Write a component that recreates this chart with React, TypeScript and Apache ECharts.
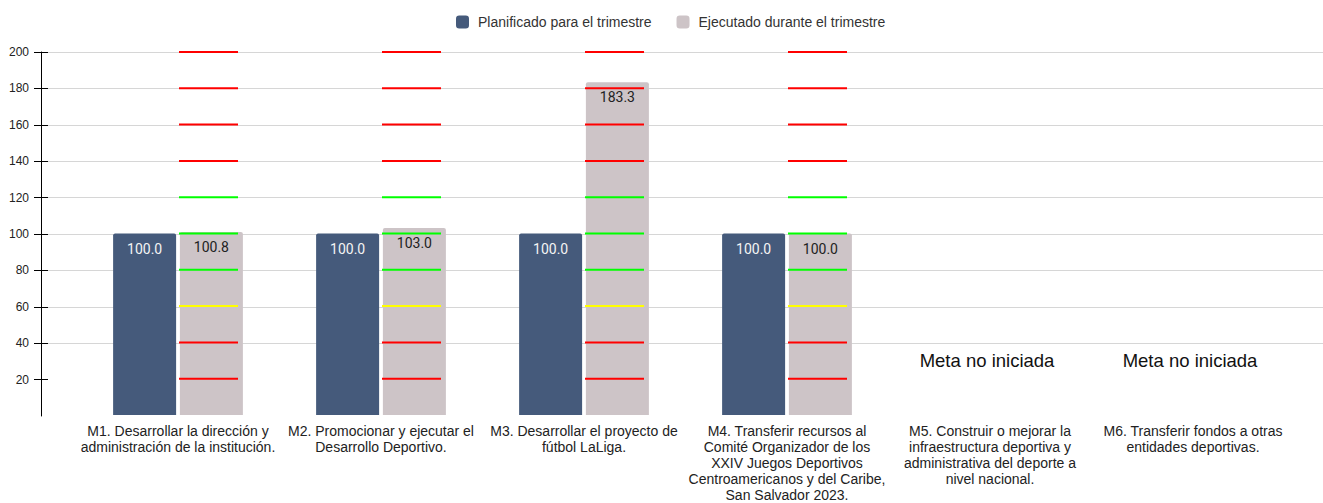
import React, { useEffect, useRef } from 'react';
import * as echarts from 'echarts';

const categories = [
  'M1. Desarrollar la dirección y\nadministración de la institución.',
  'M2. Promocionar y ejecutar el\nDesarrollo Deportivo.',
  'M3. Desarrollar el proyecto de\nfútbol LaLiga.',
  'M4. Transferir recursos al\nComité Organizador de los\nXXIV Juegos Deportivos\nCentroamericanos y del Caribe,\nSan Salvador 2023.',
  'M5. Construir o mejorar la\ninfraestructura deportiva y\nadministrativa del deporte a\nnivel nacional.',
  'M6. Transferir fondos a otras\nentidades deportivas.',
];
const seriesNames = ['Planificado para el trimestre', 'Ejecutado durante el trimestre'];
const planned = [100.0, 100.0, 100.0, 100.0, null, null];
const executed = [100.8, 103.0, 183.3, 100.0, null, null];
const yTickValues = [20, 40, 60, 80, 100, 120, 140, 160, 180, 200];
const thresholdLevels = [20, 40, 60, 80, 100, 120, 140, 160, 180, 200];
const thresholdColors = ['#ff0000', '#ff0000', '#ffff00', '#00ff00', '#00ff00', '#00ff00', '#ff0000', '#ff0000', '#ff0000', '#ff0000'];
const thresholdCategories = [0, 1, 2, 3];
const notStartedCategories = [4, 5];
const notStartedLabel = 'Meta no iniciada';
const notStartedValue = 30;

const BAR_W = 63;
const LINE_LEN = 59;
const FONT = '"Liberation Sans", Arial, sans-serif';

export default function App() {
  const ref = useRef<HTMLDivElement>(null);
  useEffect(() => {
    if (!ref.current) return;
    const chart = echarts.init(ref.current, null, { renderer: 'svg' });
    const thresholdData = thresholdCategories.flatMap((c) =>
      thresholdLevels.map((lvl, i) => [c, lvl, i])
    );
    chart.setOption({
      animation: false,
      backgroundColor: '#ffffff',
      legend: {
        data: seriesNames,
        top: 10,
        left: 451,
        icon: 'roundRect',
        itemWidth: 13,
        itemHeight: 13,
        itemGap: 25,
        textStyle: { fontSize: 14, color: '#333', fontFamily: FONT, padding: [0, 0, 0, 4] },
      },
      grid: [
        { left: 41, right: 0, top: 52, bottom: 87 },
        { left: 76.5, right: 28.5, top: 52, bottom: 87 },
      ],
      xAxis: [
        { gridIndex: 0, type: 'value', min: 0, max: 1, show: false },
        {
          gridIndex: 1,
          type: 'category',
          data: categories,
          axisLine: { show: false },
          axisTick: { show: false },
          splitLine: { show: false },
          axisLabel: {
            interval: 0,
            margin: 8,
            fontSize: 14,
            lineHeight: 16,
            color: '#222',
            fontFamily: FONT,
          },
        },
      ],
      yAxis: [
        {
          gridIndex: 0,
          type: 'value',
          min: 0,
          max: 200,
          interval: 20,
          axisLine: { show: true, lineStyle: { color: '#000', width: 1 } },
          axisTick: { show: true, length: 7, customValues: yTickValues, lineStyle: { color: '#000' } },
          axisLabel: {
            customValues: yTickValues,
            margin: 12,
            fontSize: 12,
            color: '#222',
            fontFamily: FONT,
          },
          splitLine: { show: true, showMinLine: false, lineStyle: { color: '#d6d6d6', width: 1 } },
        },
        {
          gridIndex: 0,
          type: 'value',
          min: 0,
          max: 200,
          interval: 20,
          position: 'left',
          axisLine: { show: false },
          axisTick: { show: true, inside: true, length: 7, customValues: yTickValues, lineStyle: { color: '#000' } },
          axisLabel: { show: false },
          splitLine: { show: false },
        },
        { gridIndex: 1, type: 'value', min: 0, max: 200, show: false },
      ],
      series: [
        {
          name: seriesNames[0],
          type: 'bar',
          xAxisIndex: 1,
          yAxisIndex: 2,
          data: planned,
          barWidth: BAR_W,
          barGap: '6%',
          itemStyle: { color: '#455a7b', borderRadius: [2, 2, 0, 0] },
          label: {
            show: true,
            position: 'insideTop',
            distance: 8,
            color: '#f4f4f4',
            fontSize: 14,
            fontFamily: 'Roboto',
            formatter: (p: any) => (p.value == null ? '' : Number(p.value).toFixed(1)),
          },
        },
        {
          name: seriesNames[1],
          type: 'bar',
          xAxisIndex: 1,
          yAxisIndex: 2,
          data: executed,
          barWidth: BAR_W,
          barGap: '6%',
          itemStyle: { color: '#cdc4c7', borderRadius: [2, 2, 0, 0] },
          label: {
            show: true,
            position: 'insideTop',
            distance: 8,
            color: '#222',
            fontSize: 14,
            fontFamily: 'Roboto',
            formatter: (p: any) => (p.value == null ? '' : Number(p.value).toFixed(1)),
          },
        },
        {
          type: 'custom',
          xAxisIndex: 1,
          yAxisIndex: 2,
          z: 5,
          silent: true,
          data: thresholdData,
          renderItem: (params: any, api: any) => {
            const pt = api.coord([api.value(0), api.value(1)]);
            const color = thresholdColors[api.value(2)];
            return {
              type: 'line',
              shape: { x1: pt[0] + 1, y1: pt[1], x2: pt[0] + 1 + LINE_LEN, y2: pt[1] },
              style: { stroke: color, lineWidth: 2 },
            };
          },
        },
        {
          type: 'custom',
          xAxisIndex: 1,
          yAxisIndex: 2,
          z: 5,
          silent: true,
          data: notStartedCategories.map((c) => [c, notStartedValue]),
          renderItem: (params: any, api: any) => {
            const pt = api.coord([api.value(0), api.value(1)]);
            return {
              type: 'text',
              x: pt[0] - 3,
              y: pt[1],
              style: {
                text: notStartedLabel,
                align: 'center',
                verticalAlign: 'middle',
                fill: '#111',
                fontSize: 18.5,
                fontFamily: FONT,
              },
            };
          },
        },
      ],
    });
    return () => chart.dispose();
  }, []);
  return (
    <div
      ref={ref}
      style={{ position: 'absolute', left: 0, top: 0, width: 1323, height: 503 }}
    />
  );
}
